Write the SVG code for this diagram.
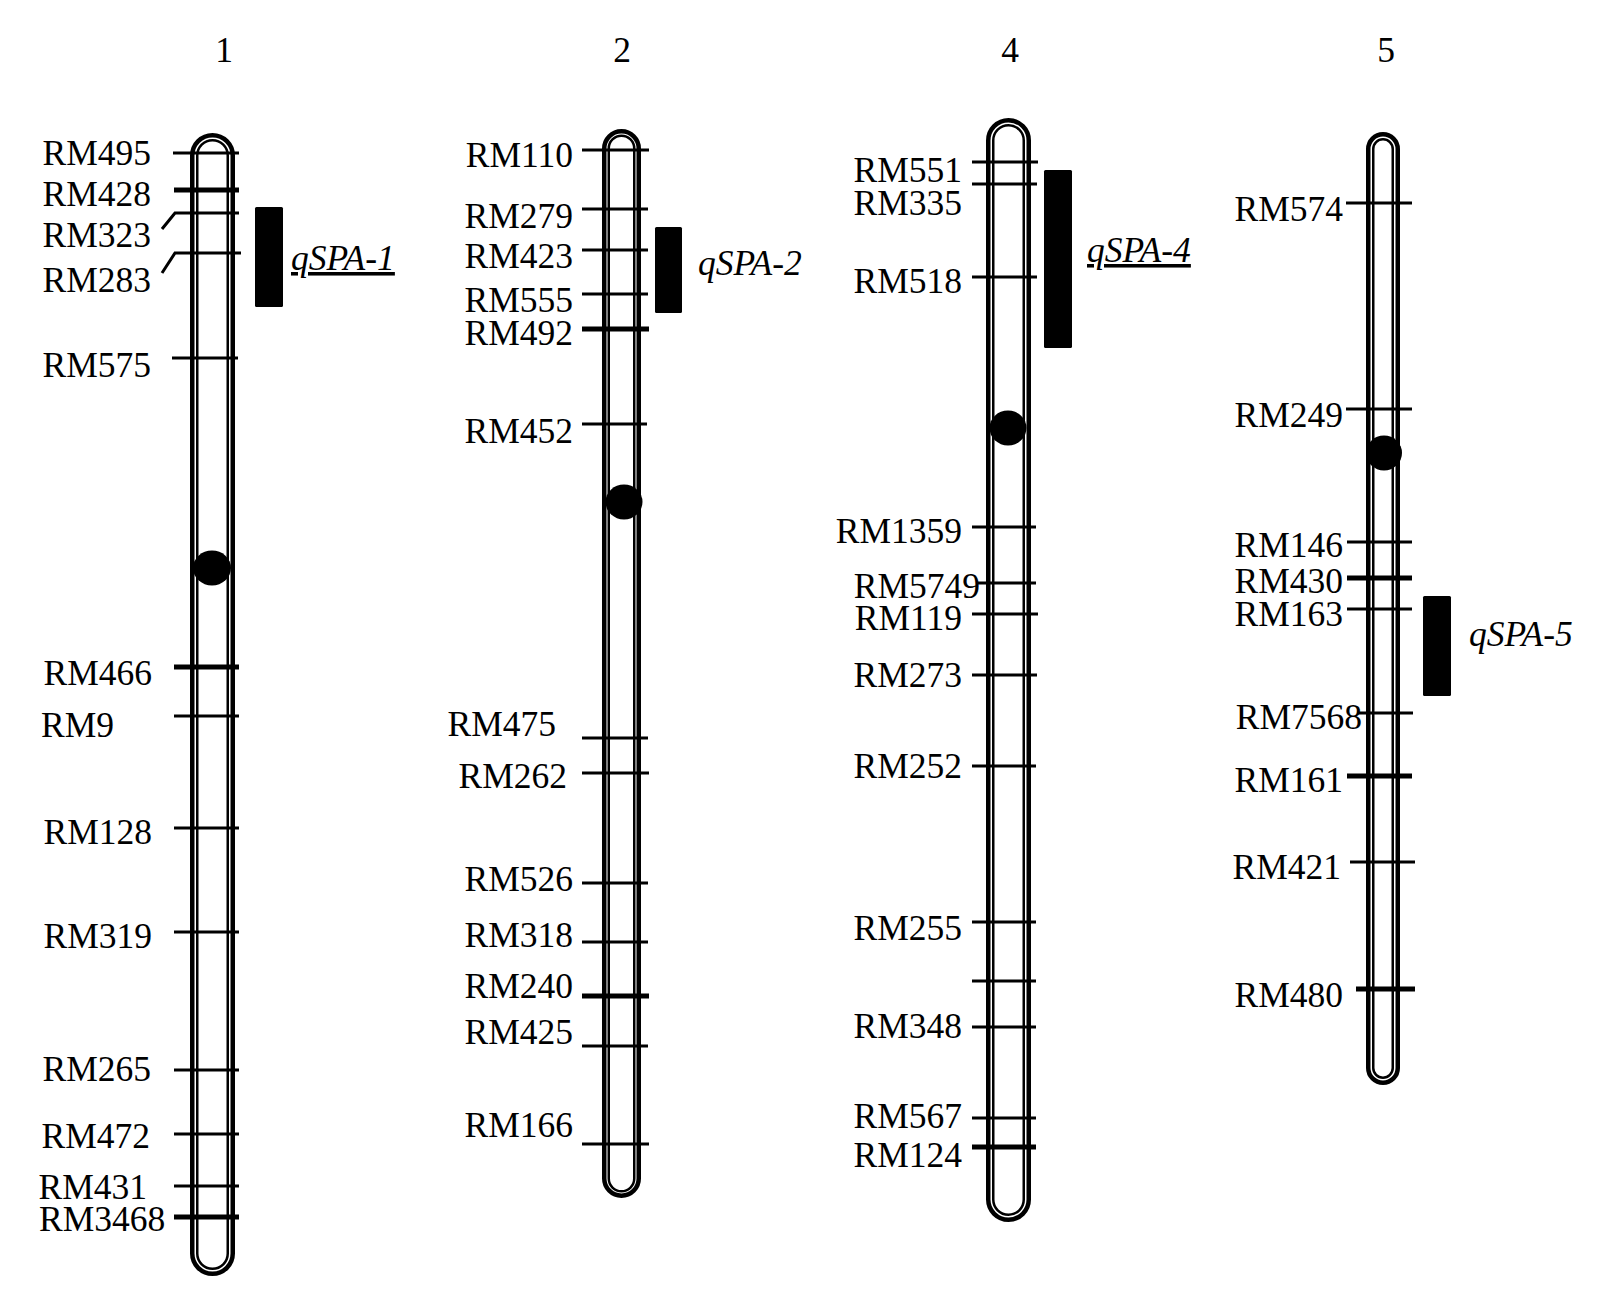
<svg xmlns="http://www.w3.org/2000/svg" width="1618" height="1307" viewBox="0 0 1618 1307">
<style>
text{font-family:"Liberation Serif","Times New Roman",serif;font-size:35.5px;fill:#000}
.lab{text-anchor:end}
.num{text-anchor:middle}
.q{font-style:italic}
.u{text-decoration:underline}
.o{fill:#fff;stroke:#000;stroke-width:4.5}
.i{fill:none;stroke:#000;stroke-width:2.5}
.t{stroke:#000;stroke-width:3;fill:none}
.tk{stroke:#000;stroke-width:5;fill:none}
.bar{fill:#000}
.cen{fill:#000}
</style>
<rect width="1618" height="1307" fill="#fff"/>

<g id="titles">
<text class="num" x="224" y="62">1</text>
<text class="num" x="622" y="62">2</text>
<text class="num" x="1010" y="62">4</text>
<text class="num" x="1386" y="62">5</text>
</g>

<g id="chr1">
<rect class="o" x="192.25" y="135.25" width="40.5" height="1138.5" rx="20.25"/>
<rect class="i" x="197.25" y="140.25" width="30.5" height="1128.5" rx="15.25"/>
<ellipse class="cen" cx="212" cy="568" rx="19" ry="17.5"/>
</g>
<g id="chr2">
<rect class="o" x="604.25" y="131.25" width="34.5" height="1064.5" rx="17.25"/>
<rect class="i" x="608.75" y="135.75" width="25.5" height="1055.5" rx="12.75"/>
<ellipse class="cen" cx="624" cy="502" rx="18.5" ry="17.5"/>
</g>
<g id="chr4">
<rect class="o" x="988.25" y="120.25" width="40.5" height="1099.5" rx="20.25"/>
<rect class="i" x="993.25" y="125.25" width="30.5" height="1089.5" rx="15.25"/>
<ellipse class="cen" cx="1008" cy="428" rx="18.5" ry="17.5"/>
</g>
<g id="chr5">
<rect class="o" x="1368.25" y="134.25" width="29.5" height="948.5" rx="14.75"/>
<rect class="i" x="1373.25" y="139.25" width="19.5" height="938.5" rx="9.75"/>
<ellipse class="cen" cx="1384" cy="453" rx="18" ry="17.5"/>
</g>

<g id="connectors">
<!-- chr1 markers -->
<line class="t" x1="173" y1="153" x2="239" y2="153"/>
<line class="tk" x1="174" y1="190" x2="239" y2="190"/>
<polyline class="t" points="162,229 175,213 239,213"/>
<polyline class="t" points="162,273 175,253 241,253"/>
<line class="t" x1="172" y1="358" x2="238" y2="358"/>
<line class="tk" x1="174" y1="667" x2="239" y2="667"/>
<line class="t" x1="174" y1="716" x2="239" y2="716"/>
<line class="t" x1="174" y1="828" x2="239" y2="828"/>
<line class="t" x1="174" y1="932" x2="239" y2="932"/>
<line class="t" x1="174" y1="1070" x2="239" y2="1070"/>
<line class="t" x1="174" y1="1134" x2="239" y2="1134"/>
<line class="t" x1="174" y1="1186" x2="239" y2="1186"/>
<line class="tk" x1="174" y1="1217" x2="239" y2="1217"/>
<!-- chr2 markers -->
<line class="t" x1="582" y1="150" x2="649" y2="150"/>
<line class="t" x1="582" y1="209" x2="648" y2="209"/>
<line class="t" x1="582" y1="250" x2="648" y2="250"/>
<line class="t" x1="582" y1="294" x2="648" y2="294"/>
<line class="tk" x1="582" y1="329" x2="649" y2="329"/>
<line class="t" x1="582" y1="424" x2="647" y2="424"/>
<line class="t" x1="582" y1="738" x2="648" y2="738"/>
<line class="t" x1="582" y1="773" x2="649" y2="773"/>
<line class="t" x1="582" y1="883" x2="648" y2="883"/>
<line class="t" x1="582" y1="942" x2="648" y2="942"/>
<line class="tk" x1="582" y1="996" x2="649" y2="996"/>
<line class="t" x1="582" y1="1046" x2="648" y2="1046"/>
<line class="t" x1="582" y1="1144" x2="649" y2="1144"/>
<!-- chr4 markers -->
<line class="t" x1="972" y1="162" x2="1038" y2="162"/>
<line class="t" x1="972" y1="184" x2="1037" y2="184"/>
<line class="t" x1="972" y1="277" x2="1037" y2="277"/>
<line class="t" x1="972" y1="527" x2="1036" y2="527"/>
<line class="t" x1="978" y1="583" x2="1036" y2="583"/>
<line class="t" x1="972" y1="614" x2="1038" y2="614"/>
<line class="t" x1="972" y1="675" x2="1037" y2="675"/>
<line class="t" x1="972" y1="766" x2="1036" y2="766"/>
<line class="t" x1="972" y1="922" x2="1036" y2="922"/>
<line class="t" x1="972" y1="981" x2="1036" y2="981"/>
<line class="t" x1="972" y1="1027" x2="1036" y2="1027"/>
<line class="t" x1="972" y1="1118" x2="1036" y2="1118"/>
<line class="tk" x1="972" y1="1147" x2="1036" y2="1147"/>
<!-- chr5 markers -->
<line class="t" x1="1346" y1="203" x2="1412" y2="203"/>
<line class="t" x1="1346" y1="409" x2="1412" y2="409"/>
<line class="t" x1="1347" y1="542" x2="1412" y2="542"/>
<line class="tk" x1="1347" y1="578" x2="1412" y2="578"/>
<line class="t" x1="1347" y1="609" x2="1412" y2="609"/>
<line class="t" x1="1358" y1="713" x2="1413" y2="713"/>
<line class="tk" x1="1347" y1="776" x2="1412" y2="776"/>
<line class="t" x1="1350" y1="862" x2="1415" y2="862"/>
<line class="tk" x1="1356" y1="989" x2="1415" y2="989"/>
</g>

<g id="labels1">
<text class="lab" x="151" y="165">RM495</text>
<text class="lab" x="151" y="206">RM428</text>
<text class="lab" x="151" y="247">RM323</text>
<text class="lab" x="151" y="292">RM283</text>
<text class="lab" x="151" y="377">RM575</text>
<text class="lab" x="152" y="685">RM466</text>
<text x="41" y="737">RM9</text>
<text class="lab" x="152" y="844">RM128</text>
<text class="lab" x="152" y="948">RM319</text>
<text class="lab" x="151" y="1081">RM265</text>
<text class="lab" x="150" y="1148">RM472</text>
<text class="lab" x="147" y="1199">RM431</text>
<text x="39" y="1231">RM3468</text>
</g>
<g id="labels2">
<text class="lab" x="573" y="167">RM110</text>
<text class="lab" x="573" y="228">RM279</text>
<text class="lab" x="573" y="268">RM423</text>
<text class="lab" x="573" y="312">RM555</text>
<text class="lab" x="573" y="345">RM492</text>
<text class="lab" x="573" y="443">RM452</text>
<text class="lab" x="556" y="736">RM475</text>
<text class="lab" x="567" y="788">RM262</text>
<text class="lab" x="573" y="891">RM526</text>
<text class="lab" x="573" y="947">RM318</text>
<text class="lab" x="573" y="998">RM240</text>
<text class="lab" x="573" y="1044">RM425</text>
<text class="lab" x="573" y="1137">RM166</text>
</g>
<g id="labels4">
<text class="lab" x="962" y="182">RM551</text>
<text class="lab" x="962" y="215">RM335</text>
<text class="lab" x="962" y="293">RM518</text>
<text class="lab" x="962" y="543">RM1359</text>
<text class="lab" x="980" y="598">RM5749</text>
<text class="lab" x="962" y="630">RM119</text>
<text class="lab" x="962" y="687">RM273</text>
<text class="lab" x="962" y="778">RM252</text>
<text class="lab" x="962" y="940">RM255</text>
<text class="lab" x="962" y="1038">RM348</text>
<text class="lab" x="962" y="1128">RM567</text>
<text class="lab" x="962" y="1167">RM124</text>
</g>
<g id="labels5">
<text class="lab" x="1343" y="221">RM574</text>
<text class="lab" x="1343" y="427">RM249</text>
<text class="lab" x="1343" y="557">RM146</text>
<text class="lab" x="1343" y="593">RM430</text>
<text class="lab" x="1343" y="626">RM163</text>
<text class="lab" x="1362" y="729">RM7568</text>
<text class="lab" x="1343" y="792">RM161</text>
<text class="lab" x="1341" y="879">RM421</text>
<text class="lab" x="1343" y="1007">RM480</text>
</g>

<g id="qtl1">
<rect class="bar" x="255" y="207" width="28" height="100" rx="1.5"/>
<text class="q u" x="291" y="270">qSPA-1</text>
</g>
<g id="qtl2">
<rect class="bar" x="655" y="227" width="27" height="86" rx="1.5"/>
<text class="q" x="698" y="275">qSPA-2</text>
</g>
<g id="qtl4">
<rect class="bar" x="1044" y="170" width="28" height="178" rx="1.5"/>
<text class="q u" x="1087" y="262">qSPA-4</text>
</g>
<g id="qtl5">
<rect class="bar" x="1423" y="596" width="28" height="100" rx="1.5"/>
<text class="q" x="1469" y="646">qSPA-5</text>
</g>
</svg>
